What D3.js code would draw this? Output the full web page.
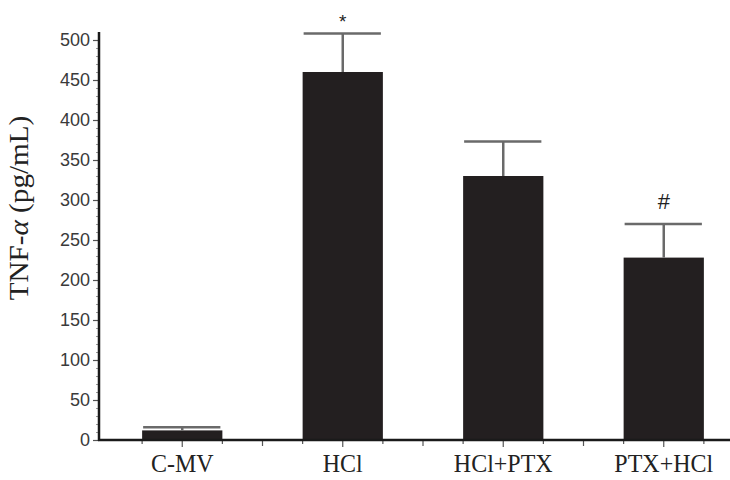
<!DOCTYPE html>
<html>
<head>
<meta charset="utf-8">
<script src="https://cdn.jsdelivr.net/npm/d3@7"></script>
<style>
    body { margin: 0; background: #fff; }
</style>
</head>
<body>
<div id="visualization"></div>
<script>
//chart data
const categories = ["C-MV", "HCl", "HCl+PTX", "PTX+HCl"];
const means = [12, 460, 330, 228];
const errors = [4, 48, 43, 42];
const marks = ["", "*", "", "#"];
const yTicks = [0, 50, 100, 150, 200, 250, 300, 350, 400, 450, 500];

/** draws the bar chart */
class BarChart {
    constructor(parentId) {
        this.width = 730;
        this.height = 480;
        this.margin = { "top": 32, "right": -14, "bottom": 40, "left": 99 };

        this.svg = d3.select(`#${parentId}`)
            .append("svg")
                .attr("width", this.width)
                .attr("height", this.height);

        //scales
        this.x = d3.scaleBand()
            .domain(categories)
            .range([this.margin.left + 3, this.width - this.margin.right])
            .paddingInner(0.5)
            .paddingOuter(0.25);

        this.y = d3.scaleLinear()
            .domain([0, 510])
            .range([this.height - this.margin.bottom, this.margin.top]);
    }

    draw() {
        const x = this.x, y = this.y;
        const step = x.step();
        const data = categories.map((c, i) => ({ cat: c, mean: means[i], err: errors[i], mark: marks[i] }));

        //bars
        this.svg.append("g")
            .selectAll("rect")
            .data(data)
            .join("rect")
                .attr("x", d => x(d.cat))
                .attr("y", d => y(d.mean))
                .attr("width", x.bandwidth())
                .attr("height", d => y(0) - y(d.mean))
                .attr("fill", "#231f20");

        //error bars
        const err = this.svg.append("g")
            .attr("stroke", "#6a6a6a")
            .attr("stroke-width", 2.5);

        err.selectAll("line.stem")
            .data(data)
            .join("line")
                .attr("class", "stem")
                .attr("x1", d => x(d.cat) + x.bandwidth() / 2)
                .attr("x2", d => x(d.cat) + x.bandwidth() / 2)
                .attr("y1", d => y(d.mean))
                .attr("y2", d => y(d.mean + d.err));

        err.selectAll("line.cap")
            .data(data)
            .join("line")
                .attr("class", "cap")
                .attr("x1", d => x(d.cat) + 1)
                .attr("x2", d => x(d.cat) + x.bandwidth() - 2)
                .attr("y1", d => y(d.mean + d.err))
                .attr("y2", d => y(d.mean + d.err));

        //significance marks
        this.svg.append("g")
            .selectAll("text")
            .data(data.filter(d => d.mark))
            .join("text")
                .attr("x", d => x(d.cat) + x.bandwidth() / 2)
                .attr("y", d => y(d.mean + d.err) - (d.mark === "*" ? 6 : 15))
                .attr("text-anchor", "middle")
                .attr("font-family", "Liberation Sans, Arial, sans-serif")
                .attr("font-size", d => d.mark === "*" ? 19 : 22)
                .attr("fill", "#222")
                .text(d => d.mark);

        //y axis with minor ticks every 10
        const yAxis = this.svg.append("g")
            .attr("transform", `translate(${this.margin.left},0)`)
            .call(d3.axisLeft(y).tickValues(d3.range(0, 510, 10)).tickSize(3).tickFormat(""));
        yAxis.selectAll(".tick line").attr("stroke", "#999").attr("stroke-width", 1);
        yAxis.select(".domain").remove();

        const yMajor = this.svg.append("g")
            .attr("transform", `translate(${this.margin.left},0)`)
            .call(d3.axisLeft(y).tickValues(yTicks).tickSize(6).tickPadding(3));
        yMajor.select(".domain").remove();
        yMajor.selectAll(".tick line").attr("stroke", "#555").attr("stroke-width", 1.2);
        yMajor.selectAll(".tick text")
            .attr("font-family", "Liberation Sans, Arial, sans-serif")
            .attr("font-size", 18)
            .attr("fill", "#3a3a3a");

        //x axis ticks: centers, bar edges and band boundaries
        const xTicks = [];
        categories.forEach(c => {
            const cx = x(c) + x.bandwidth() / 2;
            xTicks.push({ px: cx, len: 7 });
            xTicks.push({ px: cx - step / 4, len: 4 });
            xTicks.push({ px: cx + step / 4, len: 4 });
            xTicks.push({ px: cx + step / 2, len: 6 });
        });
        this.svg.append("g")
            .attr("stroke", "#555")
            .attr("stroke-width", 1.2)
            .selectAll("line")
            .data(xTicks)
            .join("line")
                .attr("x1", d => d.px)
                .attr("x2", d => d.px)
                .attr("y1", y(0))
                .attr("y2", d => y(0) + d.len);

        //axis lines
        this.svg.append("line")
            .attr("x1", this.margin.left).attr("x2", this.margin.left)
            .attr("y1", y(0) + 1).attr("y2", y(510))
            .attr("stroke", "#1a1a1a").attr("stroke-width", 2.5);
        this.svg.append("line")
            .attr("x1", this.margin.left - 1).attr("x2", this.width)
            .attr("y1", y(0)).attr("y2", y(0))
            .attr("stroke", "#1a1a1a").attr("stroke-width", 2.5);

        //category labels
        this.svg.append("g")
            .selectAll("text")
            .data(categories)
            .join("text")
                .attr("transform", c => `translate(${x(c) + x.bandwidth() / 2},${y(0) + 32}) scale(1,1.08)`)
                .attr("text-anchor", "middle")
                .attr("font-family", "Liberation Serif, Times New Roman, serif")
                .attr("font-size", 24)
                .attr("fill", "#222")
                .text(c => c);

        //y axis title, slightly stretched along its length
        const title = this.svg.append("text")
            .attr("transform", `translate(28,${y(0) - 232}) rotate(-90) scale(1.08,1)`)
            .attr("text-anchor", "middle")
            .attr("font-family", "Liberation Serif, Times New Roman, serif")
            .attr("font-size", 27)
            .attr("fill", "#222");
        title.append("tspan").text("TNF-");
        title.append("tspan").attr("font-style", "italic").text("α");
        title.append("tspan").text(" (pg/mL)");
    }
}

new BarChart("visualization").draw();
</script>
</body>
</html>
